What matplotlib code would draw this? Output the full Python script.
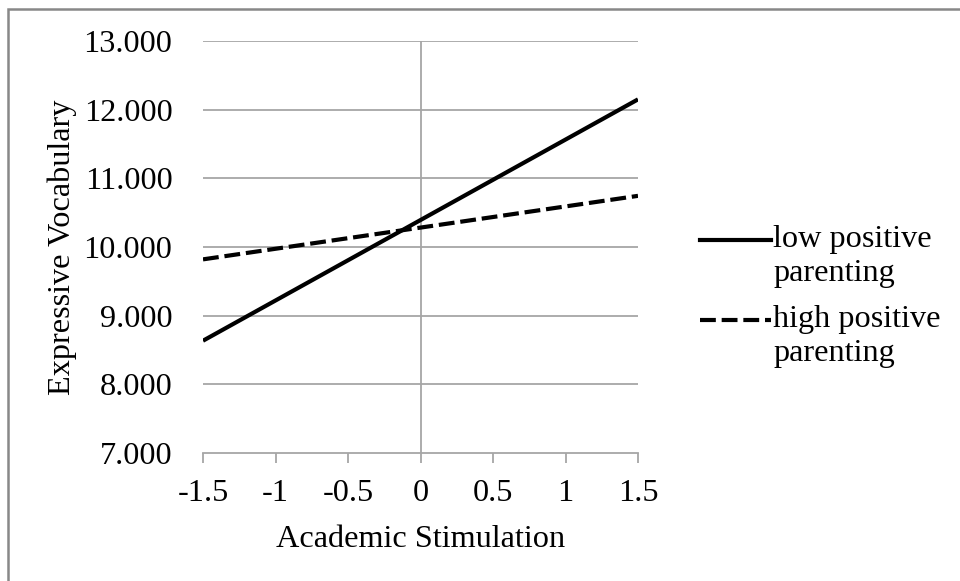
import matplotlib
matplotlib.use("Agg")
import matplotlib.pyplot as plt
from matplotlib.lines import Line2D
from matplotlib.patches import Rectangle

# data
x_vals = [-1.5, 1.5]
low_pp = [8.635, 12.15]
high_pp = [9.82, 10.745]
series_labels = ["low positive\nparenting", "high positive\nparenting"]
x_ticks = [-1.5, -1, -0.5, 0, 0.5, 1, 1.5]
x_ticklabels = ["-1.5", "-1", "-0.5", "0", "0.5", "1", "1.5"]
y_ticks = [7, 8, 9, 10, 11, 12, 13]

plt.rcParams['font.family'] = ['Liberation Serif', 'DejaVu Serif']
fs = 23.2

fig = plt.figure(figsize=(9.6, 5.81), dpi=100)
ax = fig.add_axes([203/960, 1-453/581, (638-203)/960, (453-41)/581])

grid_c = '#a6a6a6'
for yv in y_ticks[1:]:
    ax.axhline(yv, color=grid_c, lw=1.3, zorder=1)
ax.axvline(0, color=grid_c, lw=1.3, zorder=1)

dash = (3.8, 1.4)
ax.plot(x_vals, low_pp, color='black', lw=3.0, solid_capstyle='butt', zorder=3)
ax.plot(x_vals, high_pp, color='black', lw=3.0, dashes=dash, zorder=3)

ax.set_xlim(-1.5, 1.5)
ax.set_ylim(7, 13)
ax.set_xticks(x_ticks)
ax.set_xticklabels(x_ticklabels)
ax.set_yticks(y_ticks)
ax.set_yticklabels([f"{v:.3f}" for v in y_ticks])
for s in ['left', 'right', 'top']:
    ax.spines[s].set_visible(False)
ax.spines['bottom'].set_color(grid_c)
ax.spines['bottom'].set_linewidth(1.3)
ax.tick_params(axis='x', direction='out', length=7, width=1.3, color=grid_c,
               labelsize=fs, pad=12)
ax.tick_params(axis='y', length=0, labelsize=fs, pad=22)

ax.set_xlabel("Academic Stimulation", fontsize=fs, labelpad=12)
ax.set_ylabel("Expressive Vocabulary", fontsize=fs, labelpad=5)

# legend drawn by hand so the key lines up with the first text line
leg_y = [240, 320]
styles = [dict(), dict(dashes=dash)]
for yy, lab, st in zip(leg_y, series_labels, styles):
    fy = 1 - yy/581
    fig.add_artist(Line2D([700/960, 771/960], [fy, fy], color='black', lw=3.0,
                          transform=fig.transFigure, **st))
    fig.text(773/960, 1 - (yy-15)/581, lab, fontsize=fs, va='top', ha='left',
             linespacing=1.22)

# outer chart border
fig.add_artist(Rectangle((8/960, -0.1), 1.2, 1 - 9/581 + 0.1, fill=False,
                         edgecolor='#888888', lw=1.8, transform=fig.transFigure))

fig.savefig("out.png", dpi=100)
